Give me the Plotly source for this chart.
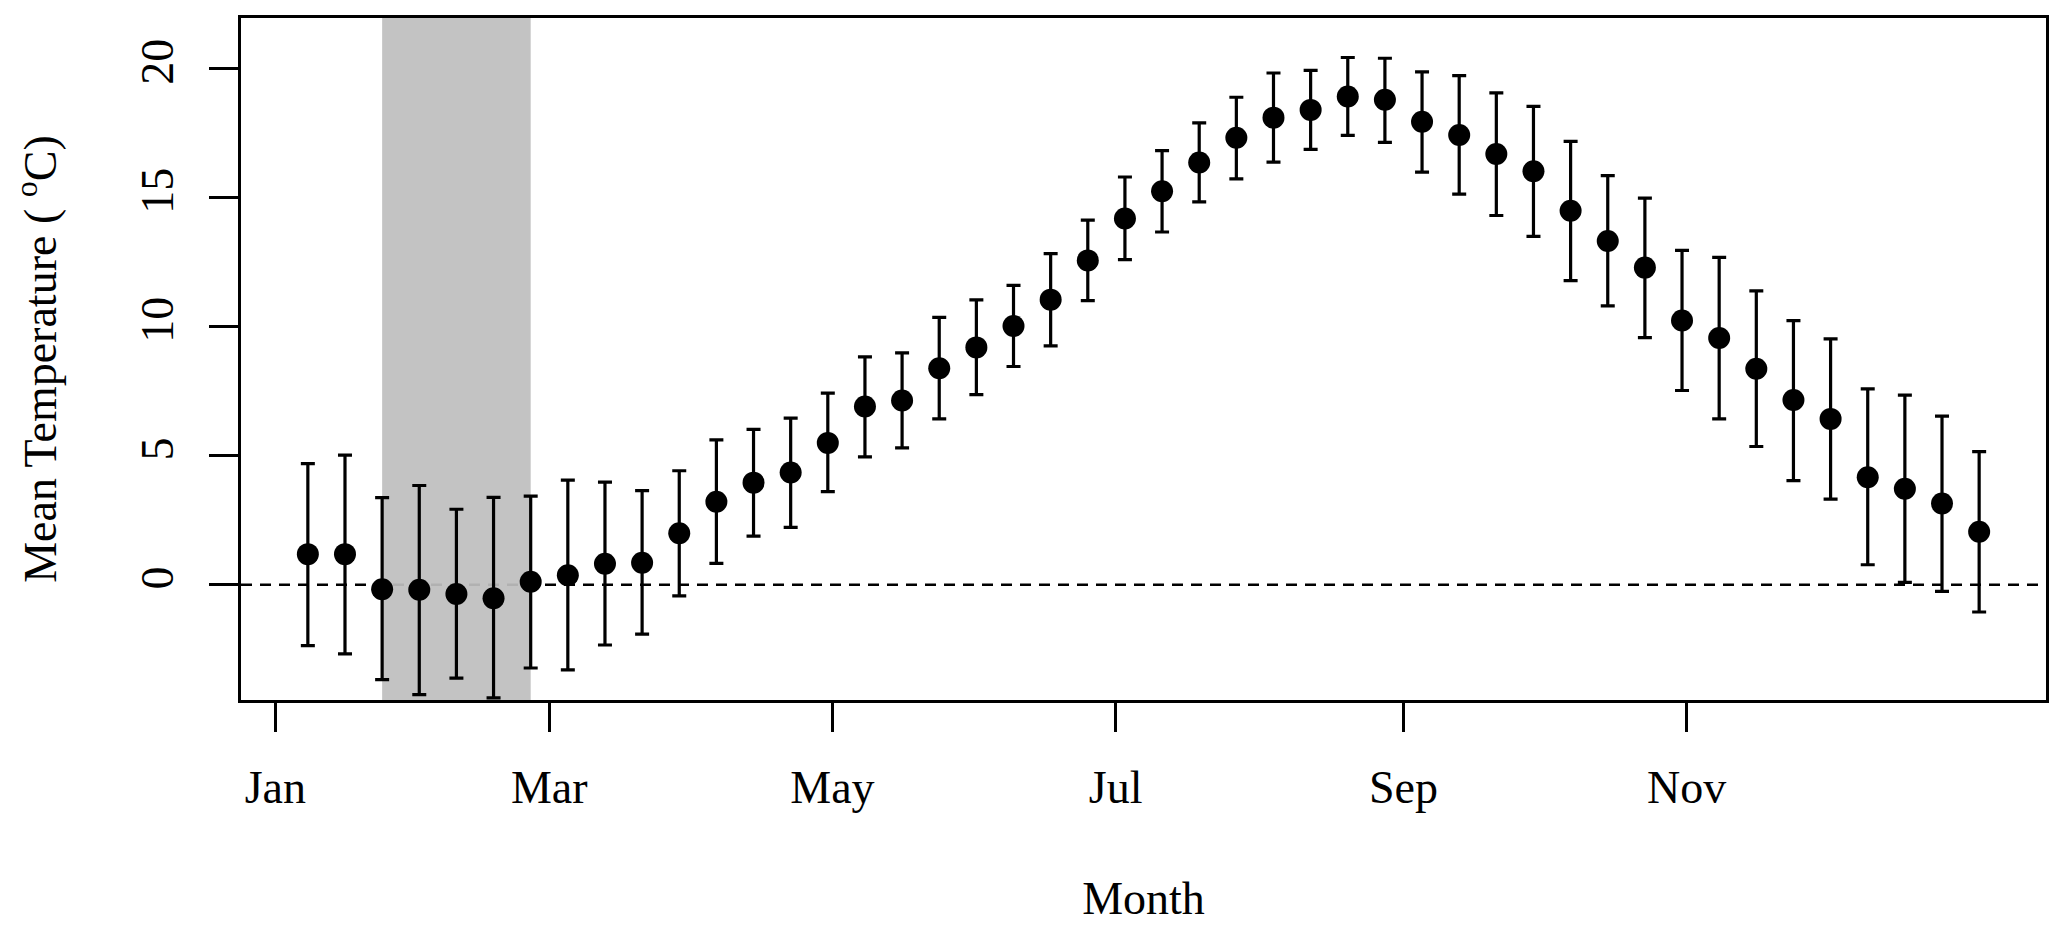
import plotly.graph_objects as go

# 8-day composite dates (centre of each point)
dates = ["2001-01-08", "2001-01-16", "2001-01-24", "2001-02-01", "2001-02-09", "2001-02-17",
         "2001-02-25", "2001-03-05", "2001-03-13", "2001-03-21", "2001-03-29", "2001-04-06",
         "2001-04-14", "2001-04-22", "2001-04-30", "2001-05-08", "2001-05-16", "2001-05-24",
         "2001-06-01", "2001-06-09", "2001-06-17", "2001-06-25", "2001-07-03", "2001-07-11",
         "2001-07-19", "2001-07-27", "2001-08-04", "2001-08-12", "2001-08-20", "2001-08-28",
         "2001-09-05", "2001-09-13", "2001-09-21", "2001-09-29", "2001-10-07", "2001-10-15",
         "2001-10-23", "2001-10-31", "2001-11-08", "2001-11-16", "2001-11-24", "2001-12-02",
         "2001-12-10", "2001-12-18", "2001-12-26", "2002-01-03"]

mean_temp = [1.19, 1.19, -0.17, -0.19, -0.35, -0.52, 0.12, 0.37, 0.82, 0.86,
             2.00, 3.22, 3.96, 4.35, 5.50, 6.91, 7.14, 8.39, 9.20, 10.03,
             11.05, 12.57, 14.19, 15.25, 16.36, 17.32, 18.10, 18.40, 18.92, 18.79,
             17.94, 17.43, 16.69, 16.02, 14.49, 13.32, 12.29, 10.24, 9.56, 8.37,
             7.16, 6.43, 4.17, 3.72, 3.15, 2.06]

upper = [4.70, 5.03, 3.38, 3.85, 2.93, 3.39, 3.44, 4.06, 3.98, 3.65,
         4.42, 5.62, 6.02, 6.46, 7.43, 8.83, 8.99, 10.36, 11.04, 11.60,
         12.83, 14.13, 15.80, 16.82, 17.90, 18.89, 19.83, 19.93, 20.43, 20.40,
         19.87, 19.73, 19.06, 18.54, 17.18, 15.85, 14.98, 12.96, 12.69, 11.39,
         10.24, 9.53, 7.59, 7.35, 6.54, 5.16]

lower = [-2.35, -2.67, -3.67, -4.25, -3.61, -4.38, -3.22, -3.29, -2.33, -1.91,
         -0.43, 0.83, 1.89, 2.23, 3.61, 4.96, 5.31, 6.43, 7.37, 8.46,
         9.26, 11.01, 12.60, 13.67, 14.84, 15.73, 16.38, 16.87, 17.41, 17.14,
         15.99, 15.14, 14.31, 13.50, 11.79, 10.81, 9.58, 7.53, 6.43, 5.36,
         4.04, 3.32, 0.78, 0.10, -0.25, -1.05]

month_tick_dates = ["2001-01-01", "2001-03-01", "2001-05-01", "2001-07-01", "2001-09-01", "2001-11-01"]
month_tick_labels = ["Jan", "Mar", "May", "Jul", "Sep", "Nov"]
y_ticks = [0, 5, 10, 15, 20]

shade_start = "2001-01-24"
shade_end = "2001-02-25"

err_plus = [u - m for u, m in zip(upper, mean_temp)]
err_minus = [m - l for m, l in zip(mean_temp, lower)]

FONT = "Liberation Serif, Times New Roman, serif"

fig = go.Figure()
fig.add_trace(go.Scatter(
    x=dates, y=mean_temp, mode="markers",
    marker=dict(color="black", size=22, line=dict(width=0)),
    error_y=dict(type="data", symmetric=False, array=err_plus, arrayminus=err_minus,
                 color="black", thickness=3.2, width=7),
    showlegend=False, hoverinfo="x+y",
))

# zero reference line and shaded period
fig.add_shape(type="line", xref="paper", yref="y", x0=0, x1=1, y0=0, y1=0,
              line=dict(color="black", width=2.5, dash="11px,8px"), layer="below")
fig.add_shape(type="rect", xref="x", yref="paper", x0=shade_start, x1=shade_end, y0=0, y1=1,
              fillcolor="rgba(190,190,190,0.93)", line=dict(width=0), layer="below")

axis_common = dict(showgrid=False, zeroline=False, showline=True, mirror=True,
                   linecolor="black", linewidth=2.5, ticks="outside", ticklen=29,
                   tickwidth=2.5, tickcolor="black",
                   tickfont=dict(family=FONT, size=46, color="black"))

fig.update_xaxes(type="date", range=["2000-12-24 14:24", "2002-01-17 09:36"],
                 tickvals=month_tick_dates, ticktext=month_tick_labels,
                 ticklabelstandoff=16,
                 title=dict(text="Month", font=dict(family=FONT, size=46, color="black"), standoff=76),
                 **axis_common)
fig.update_yaxes(range=[-4.46, 21.96], tickvals=y_ticks, ticktext=[str(v) for v in y_ticks],
                 tickangle=-90, ticklabelstandoff=18,
                 title=dict(text="Mean Temperature ( <sup>o</sup>C)",
                            font=dict(family=FONT, size=46, color="black"), standoff=65),
                 **axis_common)

# page body has an 8px default margin, so the figure is sized to fit inside the window
fig.update_layout(width=2051, height=916, autosize=False,
                  margin=dict(l=233, r=13, t=10, b=224, autoexpand=False),
                  paper_bgcolor="white", plot_bgcolor="white",
                  font=dict(family=FONT, color="black"))

fig.write_html("out.html")
